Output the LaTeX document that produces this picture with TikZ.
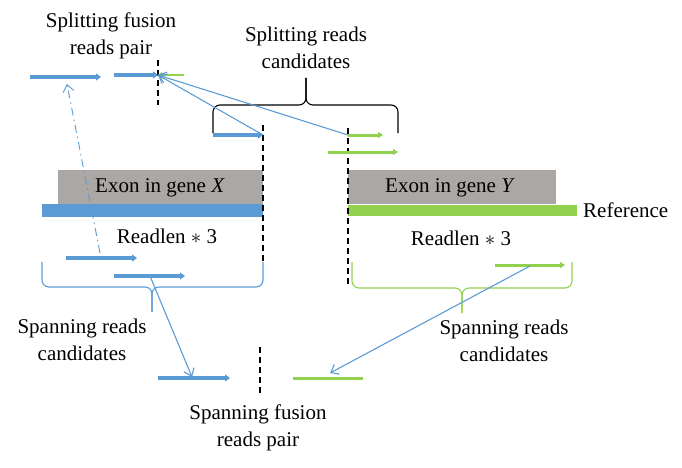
\documentclass[tikz,border=0pt]{standalone}
\usepackage{fontspec}
\setmainfont{Liberation Serif}
\usetikzlibrary{arrows.meta}
\definecolor{readblue}{RGB}{91,155,213}
\definecolor{readgreen}{RGB}{146,208,80}
\definecolor{exongray}{RGB}{171,167,165}
\tikzset{
x=1pt, y=-1pt, % one unit is one pixel of the figure
blueread/.style={readblue, line width=3.5pt, -{Triangle[length=5pt,width=7pt]}}, % a read mapped on gene X
greenread/.style={readgreen, line width=3pt, -{Triangle[length=5pt,width=6pt]}}, % a read mapped on gene Y
link/.style={readblue, line width=1.1pt, -{Straight Barb[length=7pt,width=11pt]}}, % read to read
cut/.style={black, line width=1.3pt, dash pattern=on 6pt off 4pt}, % breakpoint
brace/.style={line width=1.1pt, rounded corners=7pt},
lbl/.style={font=\fontsize{21}{27}\selectfont, align=center, inner sep=0pt},
}

\begin{document}
\begin{tikzpicture}
  \useasboundingbox (0,0) rectangle (682,468);

  % exons and reference
  \fill[exongray] (58,170) rectangle (263,204);
  \fill[exongray] (348,170) rectangle (556,204);
  \fill[readblue] (42,204) rectangle (263,217);
  \fill[readgreen] (348,205) rectangle (577,216);
  \node[lbl] (exonX) at (160,188) {Exon in gene \textit{X}};
  \node[lbl] (exonY) at (450,188) {Exon in gene \textit{Y}};
  \node[lbl, anchor=west] (ref) at (583,210) {Reference};
  \node[lbl] (readlenX) at (167,236) {Readlen $*$ 3};
  \node[lbl] (readlenY) at (461,238) {Readlen $*$ 3};

  % breakpoints
  \draw[cut] (158,60) -- (158,105);
  \draw[cut] (263,125) -- (263,265);
  \draw[cut] (348,128) -- (348,284);
  \draw[cut] (260,347) -- (260,396);

  % splitting reads
  \node[lbl] (splitpair) at (111,36) {Splitting fusion\\reads pair};
  \node[lbl] (splitcand) at (306,48) {Splitting reads\\candidates};
  \draw[blueread] (30,77) -- (101,77);
  \coordinate (splitL) at (114,75);
  \coordinate (brk) at (158,75);
  \draw[blueread] (splitL) -- (brk);
  \draw[readgreen, line width=2.5pt, -{Triangle[length=4pt,width=6pt]}] (184,75) -- (brk);
  \coordinate (candX) at (263,135);
  \coordinate (candY) at (348,135);
  \draw[blueread] (213,135) -- (candX);
  \draw[greenread] (candY) -- (383,135);
  \draw[greenread] (328,152) -- (398,152);
  \draw[brace] (213,133) -- (213,105) -- (306,105) -- (306,78);
  \draw[brace] (398,133) -- (398,105) -- (306,105) -- (306,78);
  \draw[link] (candX) -- (brk);
  \draw[link] (candY) -- (brk);

  % spanning reads
  \coordinate (dotStart) at (100,253);
  \coordinate (dotEnd) at (67,84);
  \draw[link, line width=0.9pt, dash pattern=on 8pt off 4pt on 1.5pt off 4pt] (dotStart) -- (dotEnd);
  \draw[blueread] (66,258) -- (137,258);
  \coordinate (spanX) at (150,276);
  \draw[blueread] (114,276) -- (185,276);
  \draw[greenread] (495,265) -- (565,265);
  \coordinate (spanY) at (530,266);
  \draw[brace, readblue] (42,262) -- (42,287) -- (152,287) -- (152,312);
  \draw[brace, readblue] (263,262) -- (263,287) -- (152,287) -- (152,312);
  \draw[brace, readgreen] (352,262) -- (352,288) -- (462,288) -- (462,313);
  \draw[brace, readgreen] (572,262) -- (572,288) -- (462,288) -- (462,313);
  \node[lbl] (spancandL) at (82,340) {Spanning reads\\candidates};
  \node[lbl] (spancandR) at (504,341) {Spanning reads\\candidates};

  % spanning fusion pair
  \coordinate (pairX) at (192,377);
  \coordinate (pairY) at (330,373);
  \draw[blueread] (158,378) -- (230,378);
  \draw[readgreen, line width=3pt] (293,378) -- (363,378);
  \draw[link] (spanX) -- (pairX);
  \draw[link] (spanY) -- (pairY);
  \node[lbl] (spanpair) at (258,428) {Spanning fusion\\reads pair};
\end{tikzpicture}
\end{document}
